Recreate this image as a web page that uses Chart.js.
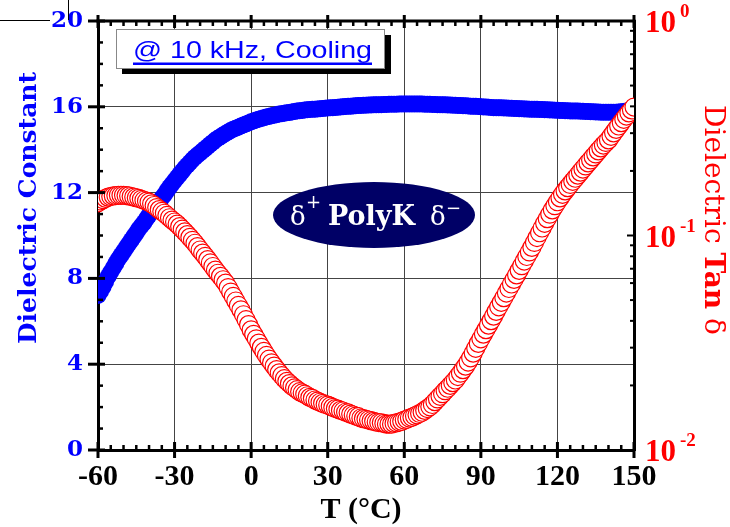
<!DOCTYPE html>
<html lang="en">
<head>
<meta charset="UTF-8" />
<title>PolyK dielectric constant and tan delta vs temperature</title>
<script src="https://cdn.jsdelivr.net/npm/chart.js"></script>
<style>
  body { margin: 0; background: #ffffff; }
  #wrap { width: 730px; height: 527px; }
</style>
</head>
<body>
<div id="wrap"><canvas id="dielChart" width="730" height="527"></canvas></div>
<script>
  // temperature in °C (cooling run, 10 kHz)
  const temps = [
    -60, -59, -58, -57, -56, -55, -54, -53, -52, -51,
    -50, -49, -48, -47, -46, -45, -44, -43, -42, -41,
    -40, -39, -38, -37, -36, -35, -34, -33, -32, -31,
    -30, -29, -28, -27, -26, -25, -24, -23, -22, -21,
    -20, -19, -18, -17, -16, -15, -14, -13, -12, -11,
    -10, -9, -8, -7, -6, -5, -4, -3, -2, -1,
    0, 1, 2, 3, 4, 5, 6, 7, 8, 9,
    10, 11, 12, 13, 14, 15, 16, 17, 18, 19,
    20, 21, 22, 23, 24, 25, 26, 27, 28, 29,
    30, 31, 32, 33, 34, 35, 36, 37, 38, 39,
    40, 41, 42, 43, 44, 45, 46, 47, 48, 49,
    50, 51, 52, 53, 54, 55, 56, 57, 58, 59,
    60, 61, 62, 63, 64, 65, 66, 67, 68, 69,
    70, 71, 72, 73, 74, 75, 76, 77, 78, 79,
    80, 81, 82, 83, 84, 85, 86, 87, 88, 89,
    90, 91, 92, 93, 94, 95, 96, 97, 98, 99,
    100, 101, 102, 103, 104, 105, 106, 107, 108, 109,
    110, 111, 112, 113, 114, 115, 116, 117, 118, 119,
    120, 121, 122, 123, 124, 125, 126, 127, 128, 129,
    130, 131, 132, 133, 134, 135, 136, 137, 138, 139,
    140, 141, 142, 143, 144, 145, 146, 147, 148, 149,
    150
  ];

  // dielectric constant (left axis)
  const dielConst = [
    7.2, 7.4, 7.6, 7.85, 8.1, 8.3, 8.5, 8.7, 8.9, 9.08,
    9.25, 9.43, 9.6, 9.78, 9.95, 10.12, 10.3, 10.45, 10.6, 10.78,
    10.95, 11.12, 11.3, 11.45, 11.6, 11.75, 11.9, 12.08, 12.25, 12.4,
    12.55, 12.7, 12.85, 13.0, 13.15, 13.28, 13.4, 13.53, 13.65, 13.75,
    13.85, 13.95, 14.05, 14.15, 14.25, 14.35, 14.45, 14.53, 14.6, 14.68,
    14.75, 14.83, 14.9, 14.95, 15.0, 15.05, 15.1, 15.15, 15.2, 15.25,
    15.3, 15.34, 15.38, 15.42, 15.45, 15.49, 15.52, 15.55, 15.58, 15.61,
    15.63, 15.66, 15.68, 15.7, 15.72, 15.74, 15.76, 15.78, 15.8, 15.82,
    15.83, 15.85, 15.86, 15.87, 15.88, 15.89, 15.9, 15.91, 15.92, 15.93,
    15.94, 15.95, 15.96, 15.97, 15.98, 15.99, 16.0, 16.01, 16.02, 16.03,
    16.04, 16.05, 16.06, 16.06, 16.07, 16.07, 16.08, 16.08, 16.09, 16.09,
    16.1, 16.1, 16.11, 16.11, 16.12, 16.12, 16.12, 16.12, 16.13, 16.13,
    16.13, 16.13, 16.13, 16.13, 16.13, 16.13, 16.13, 16.13, 16.12, 16.12,
    16.12, 16.11, 16.11, 16.1, 16.1, 16.09, 16.09, 16.08, 16.08, 16.07,
    16.07, 16.06, 16.06, 16.05, 16.05, 16.04, 16.03, 16.02, 16.02, 16.01,
    16.0, 15.99, 15.99, 15.98, 15.97, 15.96, 15.96, 15.95, 15.95, 15.94,
    15.94, 15.93, 15.93, 15.92, 15.92, 15.91, 15.91, 15.9, 15.9, 15.89,
    15.89, 15.88, 15.88, 15.87, 15.87, 15.86, 15.86, 15.85, 15.85, 15.84,
    15.84, 15.83, 15.83, 15.82, 15.82, 15.81, 15.81, 15.8, 15.8, 15.79,
    15.79, 15.78, 15.78, 15.77, 15.77, 15.76, 15.76, 15.75, 15.75, 15.75,
    15.75, 15.75, 15.75, 15.75, 15.76, 15.77, 15.78, 15.8, 15.82, 15.86,
    15.9
  ];

  // dielectric loss tangent (right axis, log)
  const tanDelta = [
    0.142, 0.145, 0.147, 0.149, 0.151, 0.152, 0.153, 0.1535, 0.154, 0.154,
    0.154, 0.1535, 0.153, 0.152, 0.151, 0.150, 0.149, 0.1475, 0.146, 0.1445,
    0.143, 0.1405, 0.138, 0.135, 0.132, 0.1295, 0.127, 0.124, 0.121, 0.118,
    0.1156, 0.113, 0.110, 0.107, 0.104, 0.101, 0.098, 0.095, 0.092, 0.0888,
    0.0856, 0.0828, 0.080, 0.0772, 0.0745, 0.0717, 0.069, 0.0667, 0.0645, 0.0622,
    0.060, 0.0572, 0.0545, 0.052, 0.0495, 0.0472, 0.045, 0.0427, 0.0405, 0.0384,
    0.0363, 0.0346, 0.033, 0.0315, 0.0301, 0.0288, 0.0276, 0.0265, 0.0255, 0.0246,
    0.0237, 0.0229, 0.0222, 0.0215, 0.0209, 0.0204, 0.0199, 0.0195, 0.0191, 0.0187,
    0.01845, 0.0182, 0.0179, 0.0176, 0.0174, 0.0171, 0.0169, 0.0167, 0.0165, 0.0163,
    0.0162, 0.016, 0.0158, 0.0156, 0.0155, 0.0153, 0.0152, 0.015, 0.0149, 0.0147,
    0.01456, 0.0144, 0.0143, 0.0141, 0.014, 0.0139, 0.0138, 0.0137, 0.0136, 0.0135,
    0.01343, 0.0134, 0.0133, 0.0132, 0.0132, 0.0132, 0.0133, 0.0134, 0.0135, 0.0136,
    0.0138, 0.0139, 0.0141, 0.0142, 0.0144, 0.0146, 0.0148, 0.015, 0.0153, 0.0156,
    0.0159, 0.0163, 0.0168, 0.0173, 0.0178, 0.0183, 0.0189, 0.0194, 0.02, 0.0206,
    0.0212, 0.022, 0.0228, 0.0237, 0.0246, 0.0257, 0.0269, 0.0283, 0.0298, 0.0314,
    0.033, 0.0347, 0.0364, 0.0382, 0.0401, 0.0421, 0.0443, 0.0465, 0.0488, 0.0513,
    0.0539, 0.0566, 0.0594, 0.0624, 0.0655, 0.0688, 0.0723, 0.076, 0.0798, 0.0838,
    0.088, 0.0928, 0.0978, 0.103, 0.1084, 0.114, 0.1198, 0.1257, 0.1317, 0.1377,
    0.1437, 0.1497, 0.1556, 0.1614, 0.1672, 0.173, 0.1789, 0.1849, 0.1911, 0.1975,
    0.2041, 0.211, 0.218, 0.225, 0.2325, 0.24, 0.248, 0.256, 0.264, 0.2715,
    0.279, 0.29, 0.301, 0.3125, 0.324, 0.336, 0.348, 0.3605, 0.373, 0.385,
    0.397
  ];

  const xTicks = [-60, -30, 0, 30, 60, 90, 120, 150];
  const leftTicks = [0, 4, 8, 12, 16, 20];
  const rightTicks = [1, 0.1, 0.01];
  const rightTickExp = ['0', '-1', '-2'];

  const serif = 'DejaVu Serif';
  const times = 'Liberation Serif';

  // no extra label overhang padding, the frame is placed by layout.padding
  const noOverhang = s => {
    s.paddingTop = 0; s.paddingBottom = 0;
    s.paddingLeft = 0; s.paddingRight = 0;
  };

  // frame, minor ticks, note box, logo and axis titles
  const decor = {
    id: 'decor',
    beforeDatasetsDraw(chart) {
      const ctx = chart.ctx;
      ctx.save();
      // note box with drop shadow
      ctx.fillStyle = '#000';
      ctx.fillRect(122, 35, 269, 39);
      ctx.fillStyle = '#fff';
      ctx.fillRect(116, 29, 269, 40);
      ctx.strokeStyle = '#888';
      ctx.lineWidth = 1;
      ctx.strokeRect(116.5, 29.5, 268, 39);

      const note = '@ 10 kHz, Cooling';
      ctx.font = '24px "Liberation Sans"';
      const w = ctx.measureText(note).width;
      ctx.save();
      ctx.translate(133, 58);
      ctx.scale(239 / w, 1);
      ctx.fillStyle = '#0000ff';
      ctx.textBaseline = 'alphabetic';
      ctx.fillText(note, 0, 0);
      ctx.restore();
      ctx.fillStyle = '#0000ff';
      ctx.fillRect(133, 62.5, 239, 2.5);

      // PolyK logo
      ctx.fillStyle = '#000066';
      ctx.beginPath();
      ctx.ellipse(374, 215, 101, 33, 0, 0, Math.PI * 2);
      ctx.fill();
      ctx.fillStyle = '#fff';
      ctx.textBaseline = 'alphabetic';
      ctx.font = '26px "' + serif + '"';
      ctx.fillText('δ', 290, 225);
      ctx.fillText('δ', 430, 225);
      ctx.font = '18px "' + serif + '"';
      ctx.fillText('+', 306, 208);
      ctx.fillText('−', 446, 214);
      ctx.font = 'bold 27px "' + serif + '"';
      ctx.fillText('PolyK', 328, 225);
      ctx.restore();
    },
    afterDraw(chart) {
      const ctx = chart.ctx;
      const a = chart.chartArea;
      const xs = chart.scales.x, ys = chart.scales.y, y2 = chart.scales.y2;
      ctx.save();
      ctx.strokeStyle = '#000';
      ctx.lineCap = 'butt';

      // top frame line
      ctx.lineWidth = 3;
      ctx.beginPath();
      ctx.moveTo(a.left - 1.5, a.top);
      ctx.lineTo(a.right + 1.5, a.top);
      ctx.stroke();

      // x ticks, bottom and top
      for (let v = -60; v <= 150; v += 5) {
        const px = xs.getPixelForValue(v);
        const major = v % 30 === 0;
        ctx.lineWidth = major ? 3 : 2.5;
        ctx.beginPath();
        if (major) {
          ctx.moveTo(px, a.bottom - 8); ctx.lineTo(px, a.bottom + 8);
          ctx.moveTo(px, a.top - 6); ctx.lineTo(px, a.top + 7);
        } else {
          ctx.moveTo(px, a.bottom); ctx.lineTo(px, a.bottom - 5);
          ctx.moveTo(px, a.top); ctx.lineTo(px, a.top + 5);
        }
        ctx.stroke();
      }

      // left ticks
      for (let v = 0; v <= 20; v += 1) {
        const py = ys.getPixelForValue(v);
        const major = v % 4 === 0;
        ctx.lineWidth = major ? 3 : 2.5;
        ctx.beginPath();
        if (major) { ctx.moveTo(a.left - 10, py); ctx.lineTo(a.left + 7, py); }
        else { ctx.moveTo(a.left, py); ctx.lineTo(a.left + 5, py); }
        ctx.stroke();
      }

      // right log ticks
      for (const dec of [0.01, 0.1]) {
        for (let m = 1; m <= 9; m++) {
          const py = y2.getPixelForValue(dec * m);
          ctx.lineWidth = 2;
          ctx.beginPath();
          ctx.moveTo(a.right, py);
          ctx.lineTo(a.right - (m === 1 ? 7 : 4), py);
          ctx.stroke();
        }
      }

      // right tick labels as powers of ten
      ctx.fillStyle = '#ff0000';
      ctx.textBaseline = 'alphabetic';
      rightTicks.forEach((v, i) => {
        const py = y2.getPixelForValue(v);
        ctx.font = 'bold 31px "' + times + '"';
        ctx.fillText('10', 645, py + 11);
        ctx.font = 'bold 19px "' + times + '"';
        ctx.fillText(rightTickExp[i], 680, py - 4);
      });

      // stray guide lines in the corner
      ctx.lineWidth = 1;
      ctx.beginPath();
      ctx.moveTo(0, 20.5); ctx.lineTo(50, 20.5);
      ctx.moveTo(68.5, 0); ctx.lineTo(68.5, 20);
      ctx.stroke();

      // axis titles
      ctx.textAlign = 'center';
      ctx.textBaseline = 'middle';
      ctx.fillStyle = '#0000ff';
      ctx.font = 'bold 25px "' + serif + '"';
      ctx.save();
      ctx.translate(29, 208);
      ctx.rotate(-Math.PI / 2);
      ctx.fillText('Dielectric Constant', 0, 0);
      ctx.restore();

      ctx.fillStyle = '#000';
      ctx.font = 'bold 30px "' + times + '"';
      ctx.fillText('T (°C)', 361, 510);

      // right title: regular + bold segments
      const parts = [
        ['Dielectric ', '28px "' + serif + '"'],
        ['Tan', 'bold 28px "' + serif + '"'],
        [' δ', '28px "' + serif + '"']
      ];
      let total = 0;
      parts.forEach(p => { ctx.font = p[1]; total += ctx.measureText(p[0]).width; });
      ctx.save();
      ctx.translate(712, 220);
      ctx.rotate(Math.PI / 2);
      ctx.textAlign = 'left';
      ctx.fillStyle = '#ff0000';
      let cx = -total / 2;
      parts.forEach(p => {
        ctx.font = p[1];
        ctx.fillText(p[0], cx, 0);
        cx += ctx.measureText(p[0]).width;
      });
      ctx.restore();
      ctx.restore();
    }
  };

  new Chart(document.getElementById('dielChart'), {
    type: 'scatter',
    data: {
      datasets: [
        {
          label: 'Tan δ',
          data: temps.map((t, i) => ({ x: t, y: tanDelta[i] })),
          yAxisID: 'y2',
          pointRadius: 9,
          pointBorderWidth: 1.2,
          borderColor: '#ff0000',
          backgroundColor: '#ffffff',
          showLine: false,
          clip: 0,
          order: 0
        },
        {
          label: 'Dielectric Constant',
          data: temps.map((t, i) => ({ x: t, y: dielConst[i] })),
          yAxisID: 'y',
          pointRadius: 8.5,
          pointBorderWidth: 0,
          borderColor: '#0000ff',
          backgroundColor: '#0000ff',
          showLine: false,
          clip: 0,
          order: 1
        }
      ]
    },
    options: {
      responsive: false,
      animation: false,
      events: [],
      layout: { padding: { top: 21, left: 0, right: 0, bottom: 0 } },
      plugins: { legend: { display: false }, tooltip: { enabled: false } },
      scales: {
        x: {
          type: 'linear',
          min: -60,
          max: 150,
          afterBuildTicks: s => { s.ticks = xTicks.map(v => ({ value: v })); },
          ticks: {
            font: { family: times, weight: 'bold', size: 30 },
            color: '#000',
            padding: 9,
            maxRotation: 0,
            autoSkip: false
          },
          grid: { color: '#444', lineWidth: 1, drawTicks: false },
          border: { color: '#000', width: 3 },
          afterFit: s => { s.height = 77; noOverhang(s); }
        },
        y: {
          type: 'linear',
          position: 'left',
          min: 0,
          max: 20,
          afterBuildTicks: s => { s.ticks = leftTicks.map(v => ({ value: v })); },
          ticks: {
            font: { family: serif, weight: 'bold', size: 23 },
            color: '#0000ff',
            padding: 15
          },
          grid: { color: '#444', lineWidth: 1, drawTicks: false },
          border: { color: '#000', width: 3 },
          afterFit: s => { s.width = 98; noOverhang(s); }
        },
        y2: {
          type: 'logarithmic',
          position: 'right',
          min: 0.01,
          max: 1,
          ticks: { display: false },
          grid: { drawOnChartArea: false, drawTicks: false },
          border: { color: '#000', width: 3 },
          afterFit: s => { s.width = 96; noOverhang(s); }
        }
      }
    },
    plugins: [decor]
  });
</script>
</body>
</html>
